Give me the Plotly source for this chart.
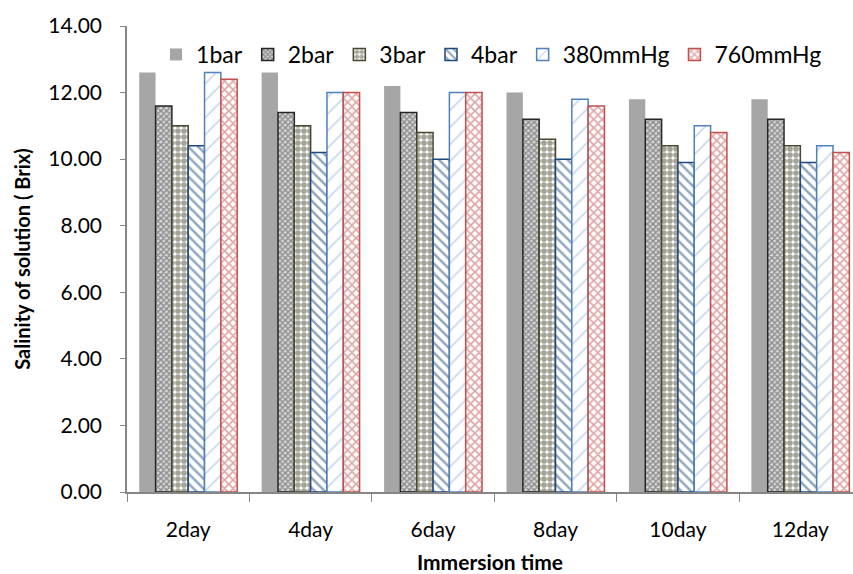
import plotly.graph_objects as go

categories = ["2day", "4day", "6day", "8day", "10day", "12day"]
series_names = ["1bar", "2bar", "3bar", "4bar", "380mmHg", "760mmHg"]
v_1bar = [12.6, 12.6, 12.2, 12.0, 11.8, 11.8]
v_2bar = [11.6, 11.4, 11.4, 11.2, 11.2, 11.2]
v_3bar = [11.0, 11.0, 10.8, 10.6, 10.4, 10.4]
v_4bar = [10.4, 10.2, 10.0, 10.0, 9.9, 9.9]
v_380 = [12.6, 12.0, 12.0, 11.8, 11.0, 10.4]
v_760 = [12.4, 12.0, 12.0, 11.6, 10.8, 10.2]
values = [v_1bar, v_2bar, v_3bar, v_4bar, v_380, v_760]

styles = [
    dict(color="#a6a6a6", line=dict(color="#a6a6a6", width=0)),
    dict(color="white", line=dict(color="#262626", width=1.5),
         pattern=dict(shape="x", fgcolor="#404040", bgcolor="#d9d9d9", size=4, solidity=0.6)),
    dict(color="white", line=dict(color="#4a4730", width=1.5),
         pattern=dict(shape=".", fgcolor="#4a4730", bgcolor="white", size=6, solidity=0.7)),
    dict(color="white", line=dict(color="#1f497d", width=1.5),
         pattern=dict(shape="\\", fgcolor="#1f497d", bgcolor="white", size=7, solidity=0.35)),
    dict(color="white", line=dict(color="#4f81bd", width=1.5),
         pattern=dict(shape="/", fgcolor="#95b3d7", bgcolor="white", size=12, solidity=0.15)),
    dict(color="white", line=dict(color="#c0504d", width=1.5),
         pattern=dict(shape="x", fgcolor="#c0504d", bgcolor="white", size=6, solidity=0.5)),
]

font = "Lato, 'Open Sans', sans-serif"
fig = go.Figure()
for name, vals, st in zip(series_names, values, styles):
    fig.add_trace(go.Bar(x=categories, y=vals, name=name, marker=st))

fig.update_layout(
    width=853, height=574,
    margin=dict(l=127, r=0, t=26, b=82),
    paper_bgcolor="white", plot_bgcolor="white",
    barmode="group", bargap=0.2, bargroupgap=0,
    font=dict(family=font, size=21, color="#000000"),
    legend=dict(orientation="h", x=0.04, y=0.985, xanchor="left", yanchor="top",
                font=dict(size=23), itemwidth=30, tracegroupgap=0,
                bgcolor="rgba(0,0,0,0)"),
    showlegend=True,
)
fig.update_xaxes(
    range=[-0.5, 5.43], showline=True, linecolor="#868686", linewidth=1.5,
    ticks="outside", tickson="boundaries", ticklen=8, tickcolor="#868686",
    ticklabelstandoff=18, tickfont=dict(size=21),
    title=dict(text="<b>Immersion time</b>", font=dict(size=21), standoff=19),
    showgrid=False,
)
fig.update_yaxes(
    range=[0, 14], dtick=2, tickformat=".2f", showline=True, linecolor="#868686",
    linewidth=1.5, ticks="outside", ticklen=5, tickcolor="#868686",
    ticklabelstandoff=14, tickfont=dict(size=21), showgrid=False, zeroline=False,
    title=dict(text="<b>Salinity of solution ( Brix)</b>", font=dict(size=20), standoff=12),
)
fig.write_html("out.html")
